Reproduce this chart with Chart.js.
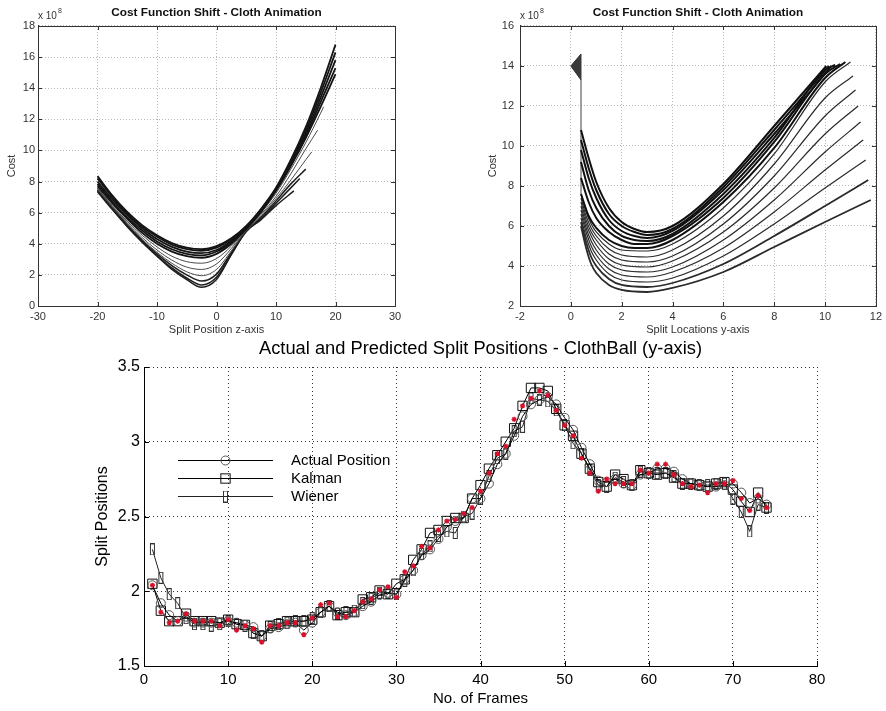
<!DOCTYPE html>
<html><head><meta charset="utf-8">
<script src="https://cdn.jsdelivr.net/npm/chart.js"></script>
<style>
html,body{margin:0;padding:0;background:#fff;}
body{width:886px;height:711px;position:relative;overflow:hidden;}
canvas{position:absolute;}
</style></head><body>
<canvas id="cz" width="443" height="340" style="left:0;top:0;width:443px;height:340px"></canvas>
<canvas id="cy" width="443" height="340" style="left:443px;top:0;width:443px;height:340px"></canvas>
<canvas id="cb" width="886" height="371" style="left:0;top:340px;width:886px;height:371px"></canvas>
<script>
// ---------------- Top-left: Cost (x 10^8) vs Split Position z-axis ----------------
const zGrid = [-20,-17.5,-15,-12.5,-10,-7.5,-5,-2.5,0,2.5,5,7.5,10,12.5,15,17.5,20];
const zCostT1 = [8.35,7.1,6.05,5.2,4.55,4.05,3.75,3.65,3.85,4.35,5.15,6.25,7.6,9.4,11.5,14.0,16.8];
const zCostT2 = [8.2,7.0,5.95,5.1,4.45,3.95,3.65,3.55,3.75,4.3,5.1,6.2,7.55,9.3,11.3,13.7,16.3];
const zCostT3 = [8.0,6.85,5.85,5.0,4.3,3.8,3.5,3.4,3.6,4.2,5.05,6.15,7.5,9.2,11.1,13.4,15.8];
const zCostT4 = [7.85,6.7,5.7,4.85,4.15,3.65,3.35,3.25,3.5,4.1,5.0,6.1,7.45,9.1,10.95,13.1,15.3];
const zCostT5 = [7.7,6.6,5.6,4.7,4.0,3.5,3.2,3.1,3.35,4.0,4.95,6.05,7.4,9.0,10.8,12.8,14.9];
const zCostM1 = [7.6,6.45,5.45,4.55,3.8,3.2,2.85,2.75,3.05,3.85,4.95,6.0,7.25,8.8,10.5,12.4];
const zCostM2 = [7.55,6.4,5.35,4.4,3.6,2.95,2.5,2.35,2.7,3.7,4.9,5.9,7.05,8.5,10.1];
const zCostM3 = [7.5,6.35,5.3,4.3,3.45,2.75,2.2,1.95,2.35,3.55,4.85,5.8,6.9,8.1,9.4];
const zCostB1 = [7.45,6.3,5.2,4.2,3.35,2.6,2.0,1.6,2.05,3.45,4.8,5.7,6.75,7.85];
const zCostB2 = [7.4,6.25,5.15,4.15,3.25,2.45,1.8,1.35,1.85,3.35,4.8,5.6,6.6];
const zCostB3 = [7.35,6.2,5.1,4.1,3.2,2.35,1.7,1.2,1.7,3.3,4.8,5.55,6.45];
const zCurves = [zCostT1,zCostT2,zCostT3,zCostT4,zCostT5,zCostM1,zCostM2,zCostM3,zCostB1,zCostB2,zCostB3];
const zTailX = [null,null,null,null,null,18,17,16,15,14,13];
const zTailY = [null,null,null,null,null,12.8,11.3,9.9,8.8,8.2,7.4];

// ---------------- Top-right: Cost (x 10^8) vs Split Locations y-axis ----------------
const yCostU1 = [[0.4,10.8],[0.7,9.4],[1,8.2],[1.5,6.9],[2,6.2],[2.5,5.85],[3,5.7],[4,6.0],[6,8.1],[8,11.0],[10.05,14.0]];
const yCostU2 = [[0.4,10.3],[0.7,8.9],[1,7.8],[1.5,6.6],[2,6.0],[2.5,5.7],[3,5.55],[4,5.85],[6,7.95],[8,10.8],[10.15,14.0]];
const yCostU3 = [[0.4,9.8],[0.7,8.4],[1,7.4],[1.5,6.3],[2,5.75],[2.5,5.5],[3,5.4],[4,5.75],[6,7.8],[8,10.6],[10.25,14.0]];
const yCostU4 = [[0.4,9.2],[0.7,7.8],[1,6.9],[1.5,6.0],[2,5.5],[2.5,5.3],[3,5.25],[4,5.6],[6,7.6],[8,10.4],[10,13.8],[10.4,14.05]];
const yCostU5 = [[0.4,8.4],[0.7,7.2],[1,6.4],[1.5,5.7],[2,5.3],[2.5,5.1],[3,5.1],[4,5.5],[6,7.4],[8,10.2],[10,13.6],[10.6,14.1]];
const yCostU6 = [[0.4,7.6],[0.7,6.5],[1,5.9],[1.5,5.3],[2,5.0],[2.5,4.9],[3,4.9],[4,5.3],[6,7.2],[8,9.9],[10,13.4],[10.8,14.2]];
const yCostL1 = [[0.4,6.0],[0.6,4.9],[0.8,4.1],[1,3.65],[1.5,3.05],[2,2.8],[3,2.7],[4,2.9],[6,3.7],[8,4.95],[10,6.2],[11.8,7.3]];
const yCostL2 = [[0.4,6.2],[0.6,5.2],[0.8,4.45],[1,4.0],[1.5,3.35],[2,3.05],[3,2.95],[4,3.15],[6,4.1],[8,5.5],[10,7.0],[11.7,8.3]];
const yCostL3 = [[0.4,6.4],[0.6,5.45],[0.8,4.75],[1,4.3],[1.5,3.6],[2,3.3],[3,3.2],[4,3.4],[6,4.5],[8,6.1],[10,7.9],[11.6,9.3]];
const yCostL4 = [[0.4,6.6],[0.6,5.7],[0.8,5.0],[1,4.55],[1.5,3.85],[2,3.55],[3,3.45],[4,3.7],[6,4.9],[8,6.7],[10,8.8],[11.5,10.3]];
const yCostL5 = [[0.4,6.8],[0.6,5.9],[0.8,5.25],[1,4.8],[1.5,4.1],[2,3.8],[3,3.7],[4,3.95],[6,5.3],[8,7.3],[10,9.7],[11.4,11.2]];
const yCostL6 = [[0.4,7.0],[0.6,6.1],[0.8,5.5],[1,5.05],[1.5,4.35],[2,4.05],[3,3.95],[4,4.25],[6,5.7],[8,7.9],[10,10.6],[11.3,12.0]];
const yCostL7 = [[0.4,7.2],[0.6,6.3],[0.8,5.7],[1,5.3],[1.5,4.6],[2,4.3],[3,4.2],[4,4.5],[6,6.1],[8,8.5],[10,11.5],[11.2,12.8]];
const yCostL8 = [[0.4,7.4],[0.6,6.5],[0.8,5.9],[1,5.5],[1.5,4.85],[2,4.55],[3,4.45],[4,4.8],[6,6.5],[8,9.1],[10,12.4],[11.1,13.5]];
const yCostL9 = [[0.4,7.6],[0.6,6.7],[0.8,6.1],[1,5.7],[1.5,5.1],[2,4.8],[3,4.75],[4,5.1],[6,6.9],[8,9.6],[10,13.2],[11.0,14.2]];
const yUpper = [yCostU1,yCostU2,yCostU3,yCostU4,yCostU5,yCostU6];
const yLower = [yCostL1,yCostL2,yCostL3,yCostL4,yCostL5,yCostL6,yCostL7,yCostL8,yCostL9];
const yCostWedge = [[0.4,13.3],[0,14.0],[0.4,14.6]];
const yCostEdge = [[0.4,7.6],[0.4,14.6]];

// ---------------- Bottom: Actual and predicted split positions ----------------
const frames = [1,2,3,4,5,6,7,8,9,10,11,12,13,14,15,16,17,18,19,20,21,22,23,24,25,26,27,28,29,30,31,32,33,34,35,36,37,38,39,40,41,42,43,44,45,46,47,48,49,50,51,52,53,54,55,56,57,58,59,60,61,62,63,64,65,66,67,68,69,70,71,72,73,74];
const actualPos = [2.04,1.92,1.84,1.80,1.83,1.79,1.79,1.79,1.79,1.80,1.79,1.775,1.76,1.70,1.75,1.76,1.78,1.79,1.74,1.79,1.86,1.90,1.86,1.84,1.86,1.90,1.93,1.975,1.99,1.98,2.08,2.14,2.24,2.28,2.35,2.43,2.47,2.49,2.62,2.62,2.72,2.85,2.92,3.04,3.17,3.25,3.28,3.30,3.25,3.16,3.08,2.96,2.85,2.74,2.73,2.75,2.72,2.71,2.78,2.79,2.82,2.82,2.80,2.75,2.72,2.71,2.70,2.70,2.71,2.72,2.66,2.59,2.62,2.58];
const kalmanPos = [2.05,1.87,1.80,1.80,1.85,1.80,1.80,1.80,1.79,1.81,1.78,1.775,1.72,1.70,1.77,1.78,1.80,1.80,1.80,1.81,1.86,1.90,1.84,1.86,1.86,1.945,1.96,2.005,1.98,2.05,2.08,2.21,2.28,2.39,2.41,2.47,2.49,2.49,2.62,2.71,2.82,2.91,3.00,3.09,3.24,3.36,3.36,3.34,3.22,3.11,3.04,2.92,2.82,2.73,2.70,2.78,2.75,2.71,2.81,2.79,2.78,2.79,2.76,2.72,2.72,2.71,2.70,2.72,2.73,2.68,2.60,2.53,2.66,2.56];
const wienerPos = [2.28,2.09,1.98,1.92,1.82,1.78,1.78,1.77,1.78,1.80,1.78,1.77,1.72,1.70,1.76,1.78,1.79,1.80,1.80,1.82,1.86,1.90,1.85,1.86,1.87,1.92,1.95,1.99,1.99,1.98,2.07,2.14,2.25,2.30,2.37,2.40,2.39,2.50,2.52,2.62,2.77,2.89,2.92,3.07,3.10,3.29,3.28,3.27,3.21,3.11,2.99,2.92,2.81,2.71,2.70,2.76,2.73,2.71,2.80,2.79,2.79,2.79,2.77,2.72,2.72,2.71,2.71,2.72,2.72,2.62,2.53,2.40,2.58,2.56];
const measuredPos = [2.04,1.86,1.79,1.80,1.85,1.80,1.80,1.80,1.77,1.81,1.74,1.77,1.75,1.66,1.77,1.77,1.79,1.79,1.71,1.82,1.91,1.92,1.83,1.83,1.87,1.93,1.95,2.01,2.03,1.96,2.13,2.17,2.30,2.29,2.41,2.47,2.48,2.52,2.56,2.67,2.79,2.92,2.97,3.15,3.24,3.29,3.34,3.31,3.21,3.11,3.04,2.89,2.79,2.67,2.75,2.72,2.72,2.72,2.81,2.79,2.85,2.85,2.78,2.72,2.70,2.71,2.66,2.72,2.72,2.74,2.62,2.54,2.64,2.56];
const yTickLabels = ['1.5','2','2.5','3','3.5'];

// ---------------- helpers & plugins ----------------
Chart.defaults.font.family = '"Liberation Sans", Arial, Helvetica, sans-serif';
Chart.defaults.animation = false;
Chart.defaults.events = [];
Chart.defaults.plugins.legend.display = false;
Chart.defaults.plugins.tooltip.enabled = false;

const pairsToXY = p => p.map(([x, y]) => ({x, y}));
const gridToXY = (vals, tx, ty) => {
  const pts = vals.map((v, i) => ({x: zGrid[i], y: v}));
  if (tx !== null && tx !== undefined) pts.push({x: tx, y: ty});
  return pts;
};

const axesDecor = {
  id: 'axesDecor',
  afterDraw(chart, args, o) {
    const {ctx, chartArea: a, scales: {x, y}} = chart;
    ctx.save();
    ctx.strokeStyle = o.color;
    ctx.lineWidth = 1;
    ctx.setLineDash([]);
    const L = o.len;
    ctx.beginPath();
    x.ticks.forEach(t => {
      const px = Math.round(x.getPixelForValue(t.value)) + 0.5;
      ctx.moveTo(px, a.bottom); ctx.lineTo(px, a.bottom - L);
      if (o.box) { ctx.moveTo(px, a.top); ctx.lineTo(px, a.top + L); }
    });
    y.ticks.forEach(t => {
      const py = Math.round(y.getPixelForValue(t.value)) + 0.5;
      ctx.moveTo(a.left, py); ctx.lineTo(a.left + L, py);
      if (o.box) { ctx.moveTo(a.right, py); ctx.lineTo(a.right - L, py); }
    });
    ctx.stroke();
    if (o.box) {
      ctx.strokeRect(Math.round(a.left) + 0.5, Math.round(a.top) + 0.5,
        Math.round(a.right) - Math.round(a.left), Math.round(a.bottom) - Math.round(a.top));
    }
    if (o.exponent) {
      ctx.fillStyle = '#333';
      ctx.font = '10px "Liberation Sans", Arial, sans-serif';
      ctx.textBaseline = 'middle';
      ctx.fillText('x 10', a.left, a.top - 10);
      const w = ctx.measureText('x 10').width;
      ctx.font = '7px "Liberation Sans", Arial, sans-serif';
      ctx.fillText(o.exponent, a.left + w + 1, a.top - 15);
    }
    ctx.restore();
  }
};

const wienerMarker = (() => {
  const c = document.createElement('canvas');
  c.width = 7; c.height = 12;
  const g = c.getContext('2d');
  g.strokeStyle = '#333'; g.lineWidth = 1;
  g.strokeRect(1.5, 0.5, 4, 11);
  return c;
})();

const insideLegend = {
  id: 'insideLegend',
  afterDraw(chart, args, o) {
    const {ctx, chartArea: a} = chart;
    ctx.save();
    o.items.forEach((idx, i) => {
      const ds = chart.data.datasets[idx];
      const yy = Math.round(a.top + o.top + i * o.gap) + 0.5;
      const x1 = a.left + o.lineLeft, x2 = a.left + o.lineRight, cx = (x1 + x2) / 2;
      ctx.strokeStyle = ds.borderColor; ctx.lineWidth = 1;
      ctx.beginPath(); ctx.moveTo(x1, yy); ctx.lineTo(x2, yy); ctx.stroke();
      ctx.strokeStyle = ds.pointBorderColor;
      const r = ds.pointRadius;
      if (ds.pointStyle === 'circle') {
        ctx.beginPath(); ctx.arc(cx, yy, r, 0, Math.PI * 2); ctx.stroke();
      } else if (ds.pointStyle === 'rect') {
        const s = r * Math.SQRT1_2;
        ctx.strokeRect(cx - s, yy - s, 2 * s, 2 * s);
      } else if (ds.pointStyle && ds.pointStyle.width) {
        ctx.drawImage(ds.pointStyle, cx - ds.pointStyle.width / 2, yy - ds.pointStyle.height / 2);
      }
      ctx.fillStyle = '#000';
      ctx.font = o.font;
      ctx.textBaseline = 'middle';
      ctx.fillText(ds.label, a.left + o.textLeft, yy);
    });
    ctx.restore();
  }
};

function topOptions(cfg) {
  return {
    responsive: false,
    maintainAspectRatio: false,
    layout: {padding: cfg.pad},
    plugins: {
      title: {display: true, fullSize: false, text: 'Cost Function Shift - Cloth Animation', color: '#111',
        font: {size: 11.8, weight: 'bold', lineHeight: 1.1}, padding: {top: 6.5, bottom: 6.5}},
      axesDecor: {color: '#333', len: 4, box: true, exponent: '8'}
    },
    scales: {
      x: {type: 'linear', min: cfg.xmin, max: cfg.xmax,
        ticks: {stepSize: cfg.xstep, padding: 4, color: '#333', font: {size: 11}, maxRotation: 0, autoSkip: false},
        grid: {color: '#b8b8b8', drawTicks: false},
        border: {display: true, color: '#333', dash: [1, 2]},
        title: {display: true, text: cfg.xtitle, color: '#333', font: {size: 11}, padding: {top: 0, bottom: 3}},
        afterFit: s => { s.height = 34; }},
      y: {type: 'linear', min: cfg.ymin, max: cfg.ymax,
        ticks: {stepSize: 2, padding: cfg.ytpad, color: '#333', font: {size: 11}, autoSkip: false},
        grid: {color: '#b8b8b8', drawTicks: false},
        border: {display: true, color: '#333', dash: [1, 2]},
        title: {display: true, text: 'Cost', color: '#333', font: {size: 11}, padding: {top: cfg.ytitlePad, bottom: 0}},
        afterFit: s => { s.width = cfg.yw; }}
    }
  };
}

// ---- top-left chart ----
const zDatasets = zCurves.map((vals, i) => ({
  label: 'z-curve ' + (i + 1),
  data: gridToXY(vals, zTailX[i], zTailY[i]),
  borderColor: i < 5 ? '#141414' : (i < 8 ? '#4a4a4a' : '#1e1e1e'),
  borderWidth: i < 5 ? 1.8 : (i < 8 ? 1 : 1.5),
  pointRadius: 0, fill: false, cubicInterpolationMode: 'monotone'
}));
new Chart(document.getElementById('cz'), {
  type: 'line',
  data: {datasets: zDatasets},
  options: topOptions({pad: {left: 0, right: 48, top: 0, bottom: 0}, xmin: -30, xmax: 30, xstep: 10,
    ymin: 0, ymax: 18, xtitle: 'Split Position z-axis', yw: 38, ytpad: 3, ytitlePad: 5}),
  plugins: [axesDecor]
});

// ---- top-right chart ----
const yDatasets = [];
yUpper.forEach((c, i) => yDatasets.push({label: 'upper ' + (i + 1), data: pairsToXY(c),
  borderColor: '#101010', borderWidth: 2, pointRadius: 0, fill: false, cubicInterpolationMode: 'monotone'}));
yLower.forEach((c, i) => yDatasets.push({label: 'lower ' + (i + 1), data: pairsToXY(c),
  borderColor: '#2a2a2a', borderWidth: i < 2 ? 1.8 : 1.2, pointRadius: 0, fill: false, cubicInterpolationMode: 'monotone'}));
yDatasets.push({label: 'wedge', data: pairsToXY(yCostWedge), borderColor: '#333', borderWidth: 1,
  backgroundColor: '#3a3a3a', fill: 'shape', pointRadius: 0, tension: 0});
yDatasets.push({label: 'edge', data: pairsToXY(yCostEdge), borderColor: '#808080', borderWidth: 1.5,
  pointRadius: 0, fill: false, tension: 0});
new Chart(document.getElementById('cy'), {
  type: 'line',
  data: {datasets: yDatasets},
  options: topOptions({pad: {left: 39, right: 10, top: 0, bottom: 0}, xmin: -2, xmax: 12, xstep: 2,
    ymin: 2, ymax: 16, xtitle: 'Split Locations y-axis', yw: 38, ytpad: 6, ytitlePad: 4.4}),
  plugins: [axesDecor]
});

// ---- bottom chart ----
const toXY = vals => vals.map((v, i) => ({x: frames[i], y: v}));
new Chart(document.getElementById('cb'), {
  type: 'line',
  data: {datasets: [
    {label: 'Measured', data: toXY(measuredPos), showLine: false, pointStyle: 'star', pointRadius: 2.6,
      pointBorderColor: '#d8102a', pointBackgroundColor: '#d8102a', pointBorderWidth: 1.3, borderColor: '#d8102a', order: 0},
    {label: 'Actual Position', data: toXY(actualPos), borderColor: '#000', borderWidth: 1, tension: 0,
      pointStyle: 'circle', pointRadius: 4.5, pointBorderColor: '#555', pointBackgroundColor: 'rgba(0,0,0,0)', pointBorderWidth: 1, order: 1},
    {label: 'Kalman', data: toXY(kalmanPos), borderColor: '#000', borderWidth: 1, tension: 0,
      pointStyle: 'rect', pointRadius: 6.6, pointBorderColor: '#111', pointBackgroundColor: 'rgba(0,0,0,0)', pointBorderWidth: 1, order: 2},
    {label: 'Wiener', data: toXY(wienerPos), borderColor: '#222', borderWidth: 1, tension: 0,
      pointStyle: wienerMarker, pointRadius: 5, pointBorderColor: '#333', order: 3}
  ]},
  options: {
    responsive: false, maintainAspectRatio: false,
    layout: {padding: {left: 90, right: 69, top: 0, bottom: 0}},
    plugins: {
      title: {display: true, fullSize: false, text: 'Actual and Predicted Split Positions - ClothBall (y-axis)', color: '#000',
        font: {size: 18.3, weight: 'normal', lineHeight: 1}, padding: {top: 0, bottom: 8.7}},
      axesDecor: {color: '#000', len: 5, box: false},
      insideLegend: {items: [1, 2, 3], top: 93, gap: 18, lineLeft: 34, lineRight: 129, textLeft: 147,
        font: '15px "Liberation Sans", Arial, sans-serif'}
    },
    scales: {
      x: {type: 'linear', min: 0, max: 80,
        ticks: {stepSize: 10, padding: 5, color: '#000', font: {size: 15}, maxRotation: 0, autoSkip: false},
        grid: {color: '#333', drawTicks: false},
        border: {display: true, color: '#000', dash: [1, 3]},
        title: {display: true, text: 'No. of Frames', color: '#000', font: {size: 15}, padding: {top: 0, bottom: 3}},
        afterFit: s => { s.height = 45; }},
      y: {type: 'linear', min: 1.5, max: 3.5,
        ticks: {stepSize: 0.5, padding: 4, color: '#000', font: {size: 16}, autoSkip: false,
          callback: (v, i) => yTickLabels[i]},
        grid: {color: '#333', drawTicks: false},
        border: {display: true, color: '#000', dash: [1, 3]},
        title: {display: true, text: 'Split Positions', color: '#000', font: {size: 16}, padding: {top: 3, bottom: 0}},
        afterFit: s => { s.width = 54; }}
    }
  },
  plugins: [axesDecor, insideLegend]
});
</script>
</body></html>
